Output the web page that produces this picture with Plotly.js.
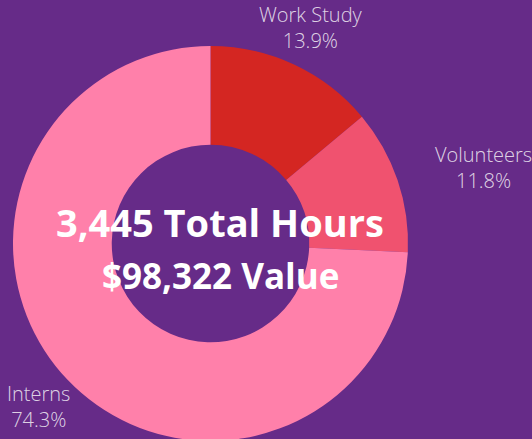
<!DOCTYPE html>
<html>
<head>
<meta charset="utf-8">
<script src="https://cdn.plot.ly/plotly-3.0.1.min.js"></script>
<style>
html,body{margin:0;padding:0;overflow:hidden;background:#662b88;width:532px;height:439px;}
#chart{width:532px;height:450px;}
</style>
</head>
<body>
<div id="chart"></div>
<script>
const categories = ["Work Study", "Volunteers", "Interns"];
const shares = [13.9, 11.8, 74.3];
const sliceColors = ["#d42622", "#f0526f", "#ff80aa"];
const centerLines = ["3,445 Total Hours", "$98,322 Value"];

const H = 450;
const trace = {
  type: "pie",
  labels: categories,
  values: shares,
  sort: false,
  direction: "clockwise",
  rotation: 0,
  hole: 0.5,
  marker: {colors: sliceColors, line: {width: 0}},
  textinfo: "none",
  domain: {x: [13/532, 408/532], y: [1 - 441/H, 1 - 46/H]},
  hoverinfo: "none",
  showlegend: false,
  automargin: false
};

// label block centres (pixels), one per category
const labelPos = [[311, 28], [483, 168], [38.5, 406]];
const labelFont = {family: "Open Sans", size: 20, color: "rgba(255,255,255,0.8)", weight: 300};

const annotations = categories.map((c, i) => ({
  text: c + "<br>" + shares[i].toFixed(1) + "%",
  x: labelPos[i][0] / 532, y: 1 - labelPos[i][1] / H,
  xref: "paper", yref: "paper", xanchor: "center", yanchor: "middle",
  align: "center", showarrow: false, font: labelFont
}));
annotations.push(
  {text: centerLines[0], x: 220/532, y: 1 - 222/H, xref: "paper", yref: "paper", xanchor: "center", yanchor: "middle", showarrow: false,
   font: {family: "Open Sans", size: 38, color: "#ffffff", weight: 700}},
  {text: centerLines[1], x: 220/532, y: 1 - 275/H, xref: "paper", yref: "paper", xanchor: "center", yanchor: "middle", showarrow: false,
   font: {family: "Open Sans", size: 35, color: "#ffffff", weight: 700}}
);

const layout = {
  width: 532,
  height: H,
  margin: {l: 0, r: 0, t: 0, b: 0},
  paper_bgcolor: "#662b88",
  plot_bgcolor: "#662b88",
  showlegend: false,
  annotations: annotations
};

Plotly.newPlot("chart", [trace], layout, {displayModeBar: false, staticPlot: true});
</script>
</body>
</html>
